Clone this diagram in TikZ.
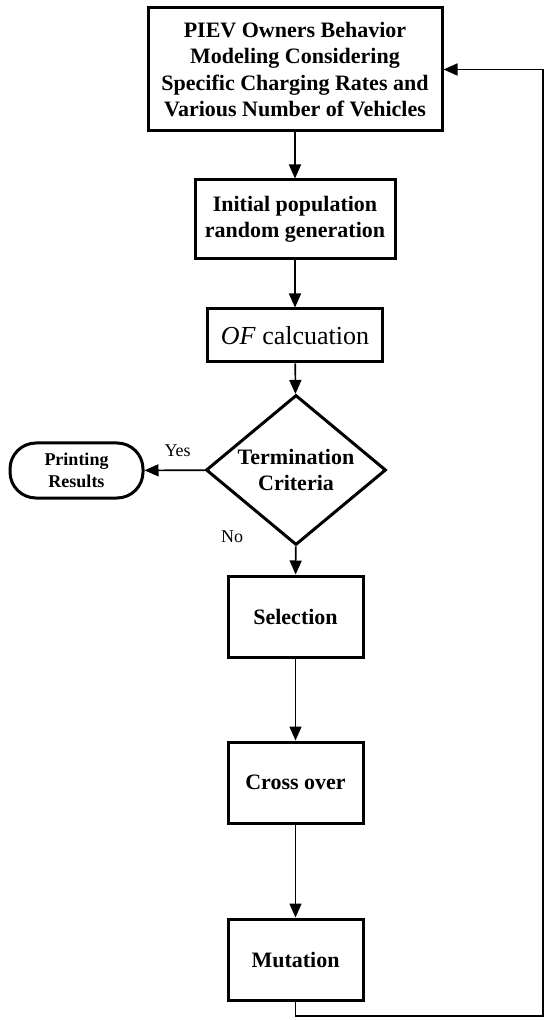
\documentclass[tikz,border=0pt]{standalone}
\usepackage{fontspec}
\setmainfont{Liberation Serif}
\usetikzlibrary{arrows.meta,shapes.geometric}
\tikzstyle{block}=[draw,line width=1.5pt,align=center,inner sep=0pt,font=\fontsize{11}{13.25}\selectfont\bfseries]
\tikzstyle{decision}=[diamond,draw,line width=1.5pt,align=center,inner sep=0pt,aspect=1.2,minimum width=90pt,minimum height=75pt,font=\fontsize{11}{13.25}\selectfont\bfseries]
\tikzstyle{terminal}=[draw,line width=1.5pt,rounded corners=13pt,align=center,inner sep=0pt,font=\fontsize{9}{11}\selectfont\bfseries]
\tikzstyle{flow}=[line width=0.8pt,-{Triangle[width=6pt,length=7pt]}]
\tikzstyle{answer}=[font=\fontsize{9}{11}\selectfont]

\begin{document}
\begin{tikzpicture}[x=0.5pt,y=-0.5pt]
\useasboundingbox (0,0) rectangle (544,1020);
\node[block,minimum width=147pt,minimum height=61.5pt] at (295, 69.5) (model) {PIEV Owners Behavior\\Modeling Considering\\Specific Charging Rates and\\Various Number of Vehicles};
\node[block,minimum width=100pt,minimum height=39.5pt] at (295, 219.5) (init) {Initial population\\random generation};
\node[block,minimum width=87.5pt,minimum height=26.5pt,font=\fontsize{13}{15}\selectfont] at (295, 335.5) (of) {\textit{OF} calcuation};
\node[decision] at (296, 470) (term) {Termination\\Criteria};
\node[terminal,minimum width=66.5pt,minimum height=27.5pt] at (76.5, 470.5) (print) {Printing\\Results};
\node[block,minimum width=67.5pt,minimum height=40.5pt] at (295.5, 616.5) (sel) {Selection};
\node[block,minimum width=67.5pt,minimum height=40.5pt] at (295.5, 782.5) (cross) {Cross over};
\node[block,minimum width=67.5pt,minimum height=40.5pt] at (295.5, 959.5) (mut) {Mutation};
\coordinate (loop) at (543, 1016);
\draw[flow] (model) -- (init);
\draw[flow] (init) -- (of);
\draw[flow] (of) -- (term);
\draw[flow] (term) -- node[answer,above=3pt,pos=0.45] {Yes} (print);
\draw[flow] (term) -- (sel);
\node[answer] at (232, 537) (no) {No};
\draw[flow] (sel) -- (cross);
\draw[flow] (cross) -- (mut);
\draw[flow] (mut.south) |- (loop) |- (model.east);
\end{tikzpicture}
\end{document}
